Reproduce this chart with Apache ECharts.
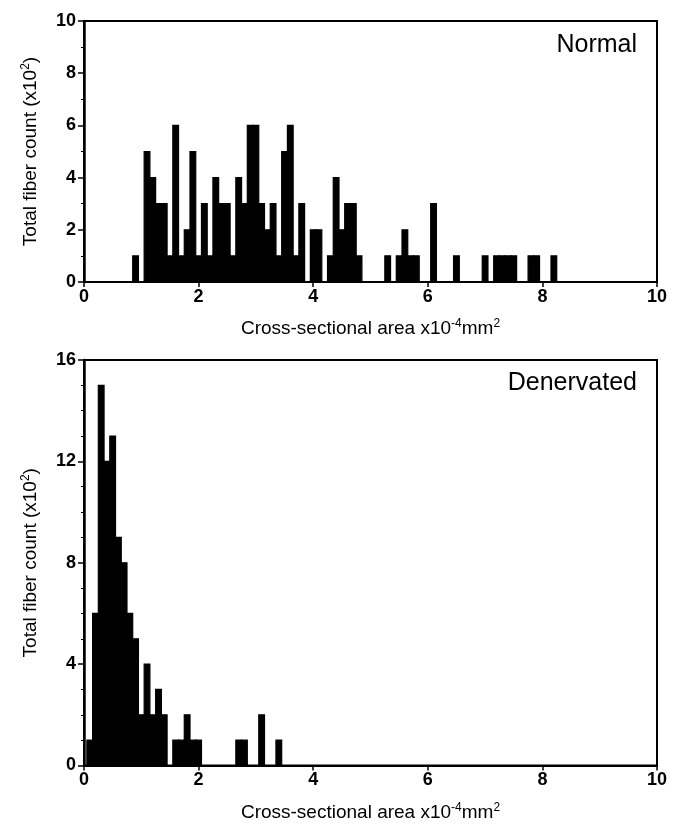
<!DOCTYPE html>
<html>
<head>
<meta charset="utf-8">
<script src="https://cdn.jsdelivr.net/npm/echarts@6/dist/echarts.min.js"></script>
<style>
  html, body { margin: 0; padding: 0; background: #fff; }
  #chart { width: 679px; height: 827px; }
</style>
</head>
<body>
<div id="chart"></div>
<script>
// --- data (bin width 0.1, bins given by centre) ---
const binWidth = 0.1;

// Normal: bins centred 0.9 ... 8.2
const normalFirstBin = 0.9;
const normalCounts = [
  1, 0, 5, 4, 3, 3, 1, 6, 1, 2,   // 0.9 - 1.8
  5, 1, 3, 1, 4, 3, 3, 1, 4, 3,   // 1.9 - 2.8
  6, 6, 3, 2, 3, 1, 5, 6, 1, 3,   // 2.9 - 3.8
  0, 2, 2, 0, 1, 4, 2, 3, 3, 1,   // 3.9 - 4.8
  0, 0, 0, 0, 1, 0, 1, 2, 1, 1,   // 4.9 - 5.8
  0, 0, 3, 0, 0, 0, 1, 0, 0, 0,   // 5.9 - 6.8
  0, 1, 0, 1, 1, 1, 1, 0, 0, 1,   // 6.9 - 7.8
  1, 0, 0, 1                      // 7.9 - 8.2
];

// Denervated: bins centred 0.1 ... 3.4
const denervFirstBin = 0.1;
const denervCounts = [
  1, 6, 15, 12, 13, 9, 8, 6, 5, 2,  // 0.1 - 1.0
  4, 2, 3, 2, 0, 1, 1, 2, 1, 1,     // 1.1 - 2.0
  0, 0, 0, 0, 0, 0, 1, 1, 0, 0,     // 2.1 - 3.0
  2, 0, 0, 1                        // 3.1 - 3.4
];

const xName = '{a|Cross-sectional area x10}{s|-4}{a|mm}{s|2}';
const yName = '{a|Total fiber count (x10}{s|2}{a|)}';

// only the non-empty bins become rectangles
function toBins(first, counts) {
  const out = [];
  counts.forEach((n, i) => {
    if (n > 0) out.push([+(first + i * binWidth).toFixed(2), n]);
  });
  return out;
}

const FONT = 'Liberation Sans, Arial, Helvetica, sans-serif';
const nameRich = {
  a: { fontFamily: FONT, fontSize: 19, color: '#000' },
  s: { fontFamily: FONT, fontSize: 12, color: '#000', padding: [0, 0, 10, 0] }
};

function xAxisFor(gridIndex) {
  return {
    gridIndex: gridIndex,
    type: 'value',
    min: 0, max: 10, interval: 2,
    name: xName,
    nameLocation: 'middle',
    nameGap: 36,
    nameTextStyle: { rich: nameRich },
    axisLine: { lineStyle: { color: '#000', width: 2 } },
    axisTick: { length: 5, lineStyle: { color: '#000', width: 1.5 } },
    axisLabel: { color: '#000', fontFamily: FONT, fontWeight: 'bold', fontSize: 18, margin: 6 },
    splitLine: { show: false }
  };
}

function yAxisFor(gridIndex, max, interval, minorSplit) {
  return {
    gridIndex: gridIndex,
    type: 'value',
    min: 0, max: max, interval: interval,
    name: yName,
    nameLocation: 'middle',
    nameGap: 42,
    nameRotate: 90,
    nameTextStyle: { rich: nameRich },
    axisLine: { show: true, lineStyle: { color: '#000', width: 2.5 } },
    axisTick: { length: 6, lineStyle: { color: '#000', width: 1.5 } },
    minorTick: { show: true, splitNumber: minorSplit, length: 3, lineStyle: { color: '#000', width: 1 } },
    axisLabel: { color: '#000', fontFamily: FONT, fontWeight: 'bold', fontSize: 18, margin: 8 },
    splitLine: { show: false }
  };
}

function histSeries(idx, data) {
  return {
    type: 'custom',
    xAxisIndex: idx,
    yAxisIndex: idx,
    renderItem: function (params, api) {
      const c = api.value(0);
      const n = api.value(1);
      const p0 = api.coord([c - binWidth / 2, n]);
      const p1 = api.coord([c + binWidth / 2, 0]);
      return {
        type: 'rect',
        shape: { x: p0[0], y: p0[1], width: p1[0] - p0[0], height: p1[1] - p0[1] },
        style: { fill: '#000', stroke: '#000', lineWidth: 1.2 }
      };
    },
    encode: { x: 0, y: 1 },
    data: data
  };
}

const chart = echarts.init(document.getElementById('chart'));
chart.setOption({
  animation: false,
  backgroundColor: '#fff',
  title: [
    { text: 'Normal', right: 37, top: 28,
      textStyle: { fontFamily: FONT, fontWeight: 'normal', fontSize: 25, color: '#000' } },
    { text: 'Denervated', right: 37, top: 366,
      textStyle: { fontFamily: FONT, fontWeight: 'normal', fontSize: 25, color: '#000' } }
  ],
  grid: [
    { left: 84, top: 21, width: 573, height: 261, show: true, borderColor: '#000', borderWidth: 2, backgroundColor: 'transparent' },
    { left: 84, top: 360, width: 573, height: 416, show: true, borderColor: '#000', borderWidth: 2, backgroundColor: 'transparent' }
  ],
  xAxis: [xAxisFor(0), xAxisFor(1)],
  yAxis: [yAxisFor(0, 10, 2, 2), yAxisFor(1, 16, 4, 4)],
  series: [
    histSeries(0, toBins(normalFirstBin, normalCounts)),
    histSeries(1, toBins(denervFirstBin, denervCounts))
  ]
});
</script>
</body>
</html>
